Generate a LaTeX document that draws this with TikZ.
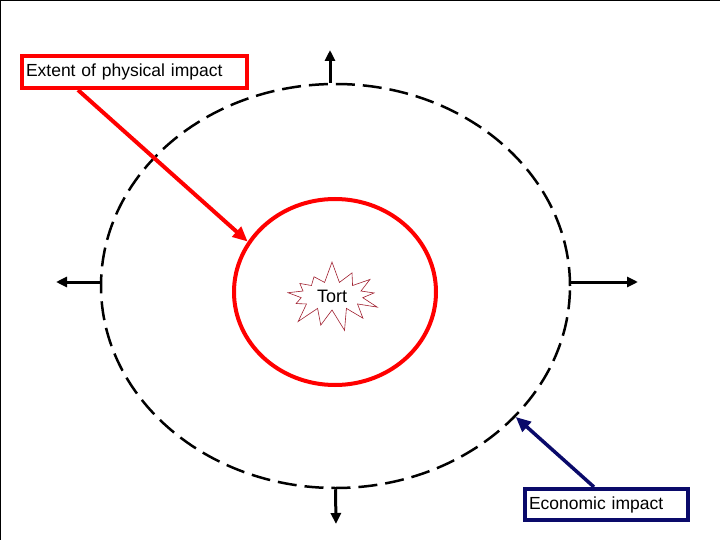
\documentclass[tikz,border=0pt]{standalone}
\usepackage{fontspec}
\setmainfont{Liberation Sans}
\usetikzlibrary{shapes.geometric,shapes.symbols,arrows.meta}
\definecolor{navy}{HTML}{0A0A6A}
\definecolor{tortred}{HTML}{A02030}
\begin{document}
\begin{tikzpicture}[x=1pt,y=-1pt,
  lbl/.style={font=\fontsize{17.5}{20}\selectfont, line width=4pt, inner xsep=4pt, inner ysep=0pt, align=left, anchor=north west},
  outarrow/.style={line width=3pt, -{Triangle[length=11pt,width=10pt]}},
  tip/.style={-{Triangle[length=15pt,width=13pt]}}]
\useasboundingbox (0,0) rectangle (720,540);
\draw[line width=2pt] (0,540) -- (0,0) -- (720,0);
% outer dashed ellipse
\node[ellipse, draw, line width=2.5pt, dash pattern=on 19pt off 8pt, minimum width=469pt, minimum height=404pt, inner sep=0pt] (outer) at (335.5,286) {};
% red circle
\node[ellipse, draw=red, line width=4pt, minimum width=202pt, minimum height=186pt, inner sep=0pt] (circ) at (335,292) {};
% starburst
\node[starburst, draw=tortred, line width=0.6pt, starburst points=13, starburst point height=22pt, random starburst=7, minimum width=106pt, minimum height=72pt, inner sep=1pt, font=\fontsize{18}{20}\selectfont] (tort) at (332,296) {Tort};
% outward arrows
\coordinate (topend) at (330,50);
\coordinate (botend) at (336,524);
\coordinate (leftend) at (56,282);
\coordinate (rightend) at (638,282);
\draw[outarrow] ([xshift=-5.5pt]outer.north) -- (topend);
\draw[outarrow] (outer.south) -- (botend);
\draw[outarrow] ([yshift=4pt]outer.west) -- (leftend);
\draw[outarrow] ([yshift=4pt]outer.east) -- (rightend);
% labels
\node[lbl, draw=red, minimum width=225pt, minimum height=32pt, text width=217pt] (phys) at (20,54) {Extent of physical impact};
\node[lbl, draw=navy, minimum width=163pt, minimum height=31pt, text width=155pt] (econ) at (523,487) {Economic impact};
% connectors
\draw[red, line width=4pt, tip] ([xshift=58pt]phys.south west) -- (circ.150);
\draw[navy, line width=3.5pt, tip] ([xshift=71pt]econ.north west) -- (outer.-36);
\end{tikzpicture}
\end{document}
